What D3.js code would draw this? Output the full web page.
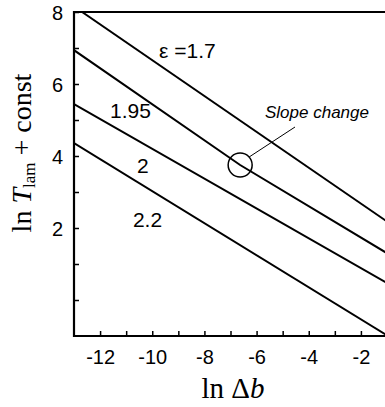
<!DOCTYPE html>
<html>
<head>
<meta charset="utf-8">
<script src="https://cdn.jsdelivr.net/npm/d3@7"></script>
<style>
  body { margin: 0; background: #fff; }
  svg { display: block; }
  .tick text { font-family: "Liberation Sans", Arial, sans-serif; font-size: 20px; fill: #000; }
</style>
</head>
<body>
<div id="chart"></div>
<script>
// values
var epsLabels = ["1.7", "1.95", "2", "2.2"];
var lnDb1 = [-12.69, -1];        var lnT1 = [8.0, 2.18];
var lnDb2 = [-13, -6.63, -1];    var lnT2 = [6.94, 3.75, 1.30];
var lnDb3 = [-13, -1];           var lnT3 = [5.44, 0.47];
var lnDb4 = [-13, -1];           var lnT4 = [4.36, -0.98];
var xTicks = [-12, -11, -10, -9, -8, -7, -6, -5, -4, -3, -2];
var yTicks = [0, 1, 2, 3, 4, 5, 6, 7, 8];
var slopeChange = [-6.63, 3.75];

var width = 385, height = 407;
// note: "top" is a reserved window global, so plot edges get a prefix
var plotL = 74, plotR = 387, plotT = 12, plotB = 336;

const svg = d3.select("#chart").append("svg")
  .attr("width", width).attr("height", height);

var x = d3.scaleLinear().domain([-13, -1]).range([plotL, plotR]);
var y = d3.scaleLinear().domain([-1, 8]).range([plotB, plotT]);

svg.append("clipPath").attr("id", "plotClip")
  .append("rect").attr("x", plotL).attr("y", plotT)
  .attr("width", plotR - plotL).attr("height", plotB - plotT);

// build series from the arrays
var series = [
  d3.zip(lnDb1, lnT1), d3.zip(lnDb2, lnT2), d3.zip(lnDb3, lnT3), d3.zip(lnDb4, lnT4)
];

var line = d3.line().x(d => x(d[0])).y(d => y(d[1]));

svg.append("g").attr("clip-path", "url(#plotClip)")
  .selectAll("path").data(series).enter().append("path")
  .attr("d", line)
  .attr("fill", "none")
  .attr("stroke", "#000")
  .attr("stroke-width", 2);

// axes, ticks point inward
var xAxis = d3.axisBottom(x).tickValues(xTicks).tickSizeInner(-5).tickSizeOuter(0)
  .tickPadding(14)
  .tickFormat(d => d % 2 === 0 ? d : "");
var yAxis = d3.axisLeft(y).tickValues(yTicks).tickSizeInner(-5).tickSizeOuter(0)
  .tickPadding(11)
  .tickFormat(d => (d % 2 === 0 && d > 0) ? d : "");

var gx = svg.append("g").attr("transform", `translate(0,${plotB})`).call(xAxis);
var gy = svg.append("g").attr("transform", `translate(${plotL},0)`).call(yAxis);
[gx, gy].forEach(g => {
  g.select(".domain").remove();
  g.selectAll(".tick line").attr("stroke", "#000").attr("stroke-width", 1.5);
});
gx.selectAll(".tick text").text(function(){ return this.textContent.replace("\u2212", "-"); });
gy.selectAll(".tick text").attr("dy", "0.36em");

// frame lines
svg.append("line").attr("x1", plotL).attr("x2", plotL).attr("y1", plotT - 1).attr("y2", plotB + 1)
  .attr("stroke", "#000").attr("stroke-width", 2.2);
svg.append("line").attr("x1", plotL).attr("x2", width).attr("y1", plotB).attr("y2", plotB)
  .attr("stroke", "#000").attr("stroke-width", 2.2);
svg.append("line").attr("x1", plotL).attr("x2", width).attr("y1", plotT).attr("y2", plotT)
  .attr("stroke", "#000").attr("stroke-width", 2);

// curve labels (left edge, baseline) in data units
var labelPos = [[-9.74, 6.72], [-11.62, 5.06], [-10.58, 3.53], [-10.74, 2.03]];
svg.selectAll(".epsLabel").data(epsLabels).enter().append("text")
  .attr("class", "epsLabel")
  .attr("x", (d, i) => x(labelPos[i][0]))
  .attr("y", (d, i) => y(labelPos[i][1]))
  .style("font-family", "'Liberation Sans', Arial, sans-serif")
  .style("font-size", "21px")
  .text((d, i) => i === 0 ? "\u03b5 =" + d : d);

// slope change marker
svg.append("circle")
  .attr("cx", x(slopeChange[0])).attr("cy", y(slopeChange[1])).attr("r", 12)
  .attr("fill", "none").attr("stroke", "#000").attr("stroke-width", 1.5);
svg.append("line")
  .attr("x1", x(slopeChange[0]) + 9).attr("y1", y(slopeChange[1]) - 8)
  .attr("x2", 295).attr("y2", 127)
  .attr("stroke", "#000").attr("stroke-width", 1);
svg.append("text")
  .attr("x", 265).attr("y", 118)
  .style("font-family", "'Liberation Sans', Arial, sans-serif")
  .style("font-size", "17px").style("font-style", "italic")
  .text("Slope change");

// axis titles
var xt = svg.append("text")
  .attr("x", 233).attr("y", 398).attr("text-anchor", "middle")
  .style("font-family", "'Liberation Serif', 'Times New Roman', serif")
  .style("font-size", "29px");
xt.append("tspan").text("ln \u0394");
xt.append("tspan").style("font-style", "italic").text("b");

var yt = svg.append("text")
  .attr("transform", "translate(31,153) rotate(-90)")
  .attr("text-anchor", "middle")
  .style("font-family", "'Liberation Serif', 'Times New Roman', serif")
  .style("font-size", "28px");
yt.append("tspan").text("ln ");
yt.append("tspan").style("font-style", "italic").text("T");
yt.append("tspan").attr("dy", 4).style("font-size", "17px").text("lam");
yt.append("tspan").attr("dy", -4).text(" + const");
</script>
</body>
</html>
